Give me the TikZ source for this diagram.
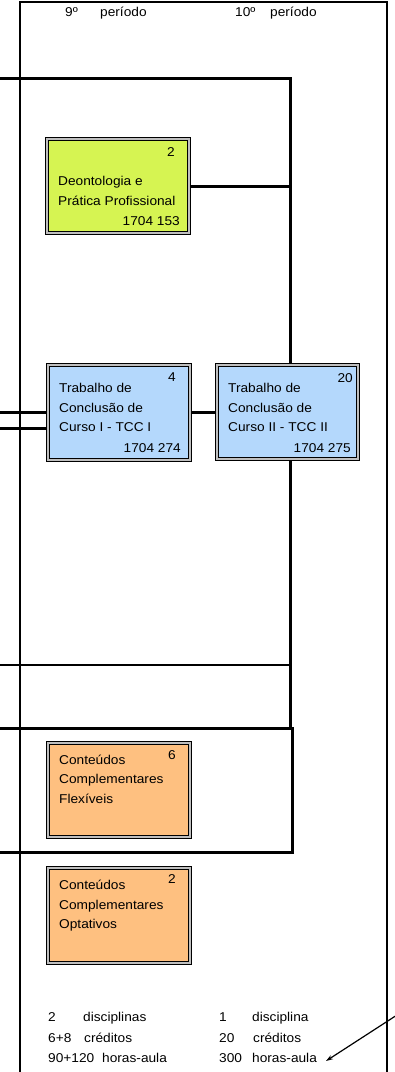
\documentclass[tikz,border=0pt]{standalone}
\usepackage{fontspec}
\setmainfont{Liberation Sans}[FakeStretch=1.07]
\usetikzlibrary{arrows.meta,backgrounds}
\definecolor{limefill}{RGB}{214,244,82}
\definecolor{bluefill}{RGB}{180,216,252}
\definecolor{orangefill}{RGB}{254,192,128}
\begin{document}
\begin{tikzpicture}[x=1pt,y=-1pt,
  every node/.style={font=\fontsize{12.8}{14}\selectfont},
  course/.style={draw=black, line width=1.2pt, double=gray!50, double distance=1.1pt,
    minimum width=142pt, minimum height=94pt, inner sep=0pt},
  txt/.style={inner sep=0pt, anchor=base west},
  rtxt/.style={inner sep=0pt, anchor=base east},
  conn/.style={line width=3pt},
  thinconn/.style={line width=2.5pt},
  frame/.style={line width=1.8pt}]
\useasboundingbox (0,0) rectangle (395,1072);

% header
\node[txt] (h9) at (65,16) {9º};
\node[txt] (h9p) at (100,16) {período};
\node[txt] (h10) at (235,16) {10º};
\node[txt] (h10p) at (270,16) {período};

% course boxes
\node[course, fill=limefill] (deon) at (118,186) {};
\node[course, fill=bluefill, minimum height=95pt] (tcc1) at (119,412.5) {};
\node[course, fill=bluefill, minimum width=141pt] (tcc2) at (287.5,412) {};
\node[course, fill=orangefill] (flex) at (119,790) {};
\node[course, fill=orangefill, minimum height=95pt] (opt) at (119,915.5) {};

% box texts
\node[rtxt] (deonc) at (175,156) {2};
\node[txt] (deon1) at (58,185) {Deontologia e};
\node[txt] (deon2) at (58,205) {Prática Profissional};
\node[rtxt] (deonk) at (180,225) {1704 153};

\node[rtxt] (tcc1c) at (176,381) {4};
\node[txt] (tcc1a) at (59,392) {Trabalho de};
\node[txt] (tcc1b) at (59,412) {Conclusão de};
\node[txt] (tcc1d) at (59,431) {Curso I - TCC I};
\node[rtxt] (tcc1k) at (181,452) {1704 274};

\node[rtxt] (tcc2c) at (353,382) {20};
\node[txt] (tcc2a) at (228,392) {Trabalho de};
\node[txt] (tcc2b) at (228,412) {Conclusão de};
\node[txt] (tcc2d) at (228,431) {Curso II - TCC II};
\node[rtxt] (tcc2k) at (351,452) {1704 275};

\node[rtxt] (flexc) at (176,759) {6};
\node[txt] (flex1) at (59,764) {Conteúdos};
\node[txt] (flex2) at (59,783) {Complementares};
\node[txt] (flex3) at (59,803) {Flexíveis};

\node[rtxt] (optc) at (176,883) {2};
\node[txt] (opt1) at (59,889) {Conteúdos};
\node[txt] (opt2) at (59,909) {Complementares};
\node[txt] (opt3) at (59,928) {Optativos};

% totals
\node[txt] (t1n) at (48,1021) {2};
\node[txt] (t1d) at (83,1021) {disciplinas};
\node[txt] (t2n) at (48,1042) {6+8};
\node[txt] (t2c) at (84,1042) {créditos};
\node[txt] (t3n) at (48,1062) {90+120};
\node[txt] (t3h) at (102,1062) {horas-aula};
\node[txt] (u1n) at (219,1021) {1};
\node[txt] (u1d) at (252,1021) {disciplina};
\node[txt] (u2n) at (219,1042) {20};
\node[txt] (u2c) at (253,1042) {créditos};
\node[txt] (u3n) at (219,1062) {300};
\node[txt] (u3h) at (252,1062) {horas-aula};

% connectors
\coordinate (fbl) at (20,1072);
\coordinate (ftl) at (20,2);
\coordinate (ftr) at (387,2);
\coordinate (fbr) at (387,1072);
\coordinate (a0) at (0,78);
\coordinate (a1) at (290,78);
\coordinate (a2) at (290,728);
\coordinate (b0) at (0,665);
\coordinate (b1) at (290,665);
\coordinate (c0) at (0,728);
\coordinate (c1) at (292,728);
\coordinate (c2) at (292,852);
\coordinate (c3) at (0,852);
\coordinate (l1) at (0,412);
\coordinate (l2) at (0,428);
\coordinate (arrs) at (397,1015);
\coordinate (arre) at (326,1061);

\begin{scope}[on background layer]
\fill[white] (0,0) rectangle (395,1072);
\draw[frame] (fbl) -- (ftl) -- (ftr) -- (fbr);
\draw[conn] (a0) -- (a1) -- (a2);
\draw[thinconn] (b0) -- (b1);
\draw[conn] (c0) -- (c1) -- (c2) -- (c3);
\draw[conn] (deon.east) -- (deon.east -| a1);
\draw[conn] (l1) -- (l1 -| tcc1.west);
\draw[conn] (l2) -- (l2 -| tcc1.west);
\draw[conn] (tcc1.east |- l1) -- (tcc2.west |- l1);
\end{scope}

\draw[line width=1.2pt, -{Stealth[length=7pt,width=4.5pt]}] (arrs) -- (arre);
\end{tikzpicture}
\end{document}
